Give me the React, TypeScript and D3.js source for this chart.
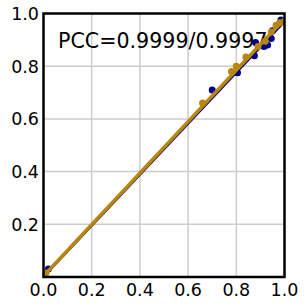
import React from "react";
import * as d3 from "d3";

const ticks = [0.0, 0.2, 0.4, 0.6, 0.8, 1.0];
const yTicks = [0.2, 0.4, 0.6, 0.8, 1.0];
const blueX = [0.02, 0.70, 0.805, 0.875, 0.88, 0.915, 0.93, 0.945, 0.95, 0.985];
const blueY = [0.03, 0.71, 0.775, 0.84, 0.89, 0.875, 0.88, 0.905, 0.935, 0.975];
const orangeX = [0.01, 0.66, 0.78, 0.80, 0.84, 0.89, 0.92, 0.945, 0.965, 0.98];
const orangeY = [0.015, 0.66, 0.78, 0.80, 0.835, 0.875, 0.895, 0.93, 0.955, 0.965];
const blueFit = [[0, 0], [1, 0.968]];
const orangeFit = [[0, 0.004], [1, 0.98]];
const label = "PCC=0.9999/0.9997";

export default function App() {
  const L = 43.5, R = 284.5, T = 13.5, B = 277;
  const x = d3.scaleLinear().domain([0, 1]).range([L, R]);
  const y = d3.scaleLinear().domain([0, 1]).range([B, T]);
  const line = d3.line<number[]>().x(d => x(d[0])).y(d => y(d[1]));
  const font = "DejaVu Sans, sans-serif";
  return (
    <svg width={305} height={305} style={{ position: "absolute", left: 0, top: 0 }}>
      <rect width={305} height={305} fill="#fff" />
      <defs>
        <clipPath id="c"><rect x={L} y={T} width={R - L} height={B - T} /></clipPath>
      </defs>
      {ticks.map(t => (
        <line key={"gx" + t} x1={x(t)} x2={x(t)} y1={T} y2={B} stroke="#cccccc" strokeWidth={1.5} />
      ))}
      {ticks.map(t => (
        <line key={"gy" + t} x1={L} x2={R} y1={y(t)} y2={y(t)} stroke="#cccccc" strokeWidth={1.5} />
      ))}
      <text x={58} y={48} fontFamily={font} fontSize={20.6} fill="#000">{label}</text>
      <g clipPath="url(#c)">
        <path d={line(blueFit) || ""} stroke="#00008b" strokeWidth={2} fill="none" />
        {blueX.map((v, i) => (
          <circle key={"b" + i} cx={x(v)} cy={y(blueY[i])} r={3.5} fill="#00008b" />
        ))}
        <path d={line(orangeFit) || ""} stroke="#b8860b" strokeWidth={3.5} fill="none" />
        {orangeX.map((v, i) => (
          <circle key={"o" + i} cx={x(v)} cy={y(orangeY[i])} r={3.5} fill="#b8860b" />
        ))}
      </g>
      <rect x={L} y={T} width={R - L} height={B - T} fill="none" stroke="#000" strokeWidth={2.5} />
      {yTicks.map(t => (
        <text key={"yl" + t} x={39} y={y(t)} dy="0.36em" textAnchor="end" fontFamily={font} fontSize={17.5} fill="#000">{t.toFixed(1)}</text>
      ))}
      {ticks.map(t => (
        <text key={"xl" + t} x={x(t)} y={296} textAnchor="middle" fontFamily={font} fontSize={17.5} fill="#000">{t.toFixed(1)}</text>
      ))}
    </svg>
  );
}
